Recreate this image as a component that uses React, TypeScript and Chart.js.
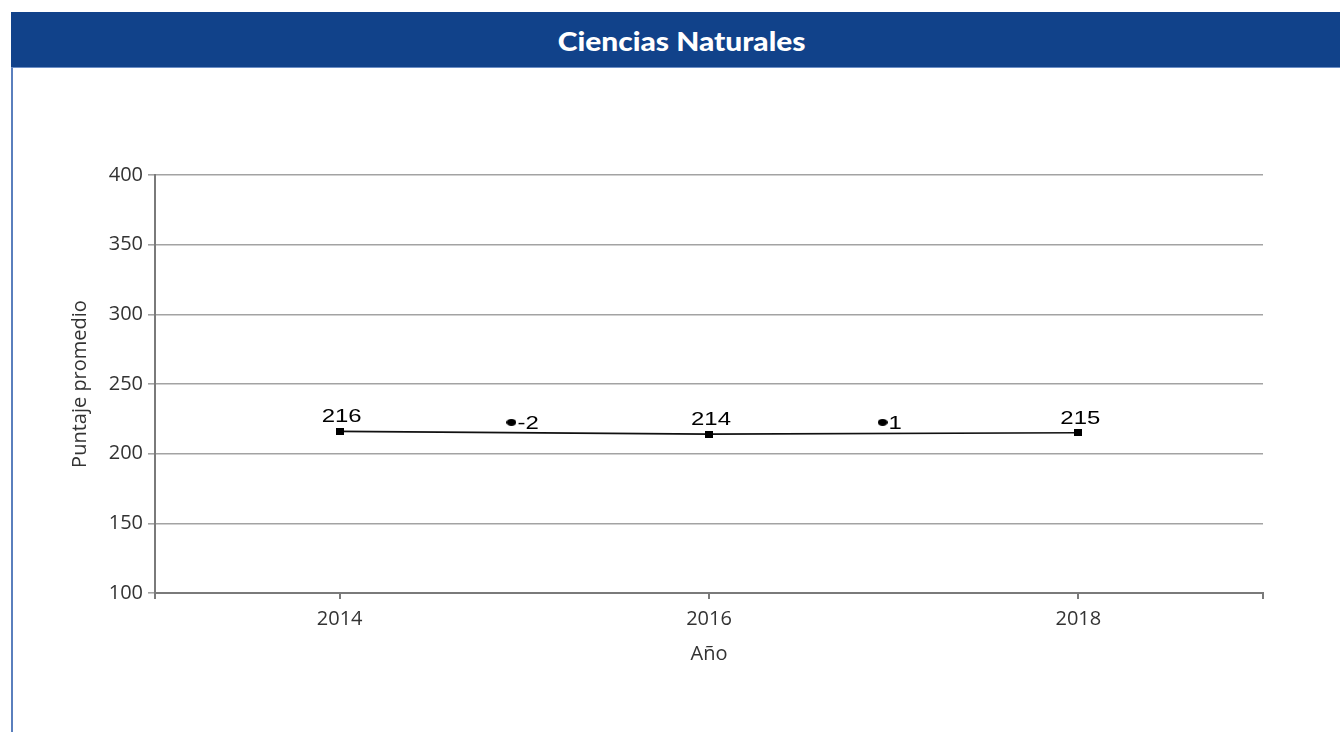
import React, { useEffect, useRef } from "react";
import { Chart, registerables } from "chart.js";

Chart.register(...registerables);

const chartTitle = "Ciencias Naturales";
const yAxisTitle = "Puntaje promedio";
const xAxisTitle = "Año";

const years = [2014, 2016, 2018];
const scores = [216, 214, 215];
const diffMarkerX = [2014.93, 2016.94];
const diffValues = [-2, 1];
const diffMarkerLevel = [222.5, 222.5];

const xMin = 2013;
const xMax = 2019;
const yMin = 100;
const yMax = 400;
const yStep = 50;

const TEXT_STRETCH = 1.33;

function makeMarker(w: number, h: number, round: boolean): HTMLCanvasElement {
  const c = document.createElement("canvas");
  c.width = w;
  c.height = h;
  const ctx = c.getContext("2d")!;
  ctx.fillStyle = "#000";
  if (round) {
    ctx.beginPath();
    ctx.ellipse(w / 2, h / 2, w / 2, h / 2, 0, 0, Math.PI * 2);
    ctx.fill();
  } else {
    ctx.fillRect(0, 0, w, h);
  }
  return c;
}

const labelPlugin = {
  id: "valueLabels",
  afterDatasetsDraw(chart: any) {
    const ctx = chart.ctx;
    ctx.save();
    ctx.fillStyle = "#000";
    ctx.font = "18px 'Liberation Sans', Arial, sans-serif";
    const m0 = chart.getDatasetMeta(0);
    m0.data.forEach((pt: any, i: number) => {
      ctx.save();
      ctx.translate(pt.x + 2, pt.y - 9);
      ctx.scale(TEXT_STRETCH, 1);
      ctx.textAlign = "center";
      ctx.textBaseline = "alphabetic";
      ctx.fillText(String(scores[i]), 0, 0);
      ctx.restore();
    });
    const m1 = chart.getDatasetMeta(1);
    m1.data.forEach((pt: any, i: number) => {
      ctx.save();
      ctx.translate(pt.x + 6, pt.y + 6.5);
      ctx.scale(TEXT_STRETCH, 1);
      ctx.textAlign = "left";
      ctx.textBaseline = "alphabetic";
      ctx.fillText(String(diffValues[i]), 0, 0);
      ctx.restore();
    });
    ctx.restore();
  },
};

function LineChart() {
  const ref = useRef<HTMLCanvasElement | null>(null);
  useEffect(() => {
    if (!ref.current) return;
    const square = makeMarker(8, 7, false);
    const ellipse = makeMarker(10, 7, true);
    const axisFont = { family: "'Open Sans', sans-serif", size: 20 };
    const chart = new Chart(ref.current, {
      type: "line",
      data: {
        datasets: [
          {
            label: "Puntaje",
            data: years.map((x, i) => ({ x, y: scores[i] })),
            borderColor: "#111",
            borderWidth: 1.6,
            pointStyle: square as any,
            pointRadius: 4,
            tension: 0,
          },
          {
            label: "Diferencia",
            data: diffMarkerX.map((x, i) => ({ x, y: diffMarkerLevel[i] })),
            showLine: false,
            pointStyle: ellipse as any,
            pointRadius: 5,
          },
        ],
      },
      options: {
        responsive: false,
        animation: false,
        events: [],
        layout: { padding: { left: 68, top: 175, right: 77, bottom: 66 } },
        plugins: { legend: { display: false }, tooltip: { enabled: false } },
        scales: {
          x: {
            type: "linear",
            min: xMin,
            max: xMax,
            afterBuildTicks: (scale: any) => {
              scale.ticks = [xMin, ...years, xMax].map((v) => ({ value: v }));
            },
            afterFit: (scale: any) => {
              scale.height = 73;
            },
            grid: {
              drawOnChartArea: false,
              drawTicks: true,
              tickLength: 6,
              color: "#7a7a7a",
              lineWidth: 2,
            },
            border: { color: "#7a7a7a", width: 2 },
            ticks: {
              autoSkip: false,
              maxRotation: 0,
              padding: 8,
              color: "#333",
              font: axisFont,
              callback: (v: any) => (years.includes(Number(v)) ? String(v) : ""),
            },
            title: {
              display: true,
              text: xAxisTitle,
              color: "#333",
              font: axisFont,
              padding: 0,
            },
          },
          y: {
            min: yMin,
            max: yMax,
            afterFit: (scale: any) => {
              scale.width = 87;
            },
            grid: {
              color: "#a3a3a3",
              lineWidth: 1.6,
              tickLength: 7,
            },
            border: { color: "#7a7a7a", width: 2 },
            ticks: {
              stepSize: yStep,
              padding: 5,
              color: "#333",
              font: axisFont,
            },
            title: {
              display: true,
              text: yAxisTitle,
              color: "#333",
              font: axisFont,
              padding: 0,
            },
          },
        },
      },
      plugins: [labelPlugin],
    });
    return () => chart.destroy();
  }, []);
  return (
    <canvas
      ref={ref}
      width={1340}
      height={732}
      style={{ position: "absolute", left: 0, top: 0, width: 1340, height: 732 }}
    />
  );
}

export default function App() {
  useEffect(() => {
    document.body.style.margin = "0";
  }, []);
  return (
    <div
      style={{
        position: "relative",
        width: 1340,
        height: 732,
        overflow: "hidden",
        background: "#fff",
      }}
    >
      <LineChart />
      <div
        style={{
          position: "absolute",
          left: 11,
          top: 68,
          width: 2,
          height: 664,
          background: "#5a7fbd",
        }}
      />
      <div
        style={{
          position: "absolute",
          left: 11,
          top: 12,
          width: 1329,
          height: 56,
          background: "#11428a",
          borderBottom: "1px solid #6d8fc6",
          boxSizing: "border-box",
          color: "#fff",
          fontFamily: "Lato, sans-serif",
          fontWeight: 900,
          fontSize: 26,
          lineHeight: "59px",
          textAlign: "center",
          paddingLeft: 12,
          overflow: "hidden",
        }}
      >
        <span style={{ display: "inline-block", transform: "scaleX(1.15)" }}>
          {chartTitle}
        </span>
      </div>
    </div>
  );
}
